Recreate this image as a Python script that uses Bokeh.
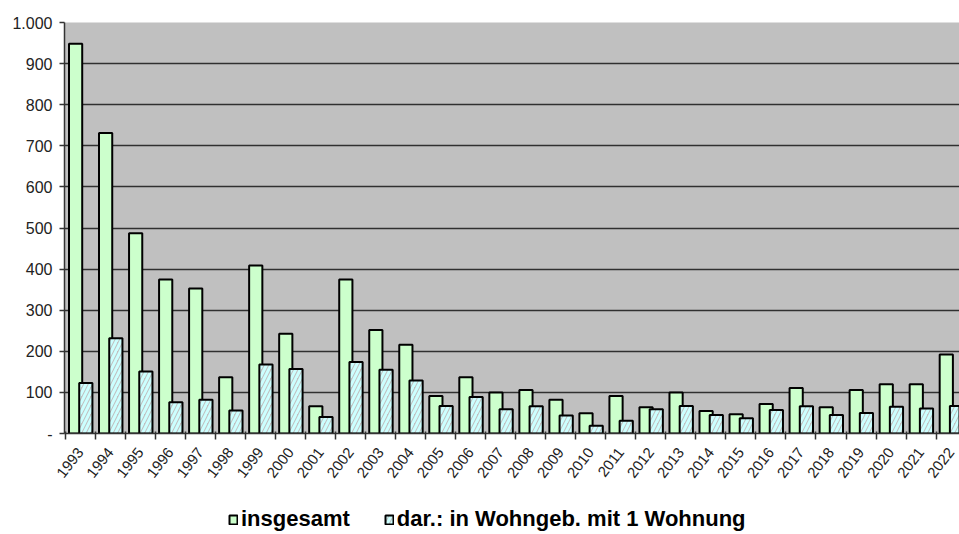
import math
from bokeh.plotting import figure
from bokeh.layouts import column
from bokeh.models import (ColumnDataSource, Range1d, FixedTicker, Legend, LegendItem,
                          LinearAxis)
from bokeh.transform import dodge
from bokeh.embed import file_html
from bokeh.resources import INLINE

# ---- data ----
years = ["1993", "1994", "1995", "1996", "1997", "1998", "1999", "2000", "2001", "2002",
         "2003", "2004", "2005", "2006", "2007", "2008", "2009", "2010", "2011", "2012",
         "2013", "2014", "2015", "2016", "2017", "2018", "2019", "2020", "2021", "2022"]
insgesamt = [948, 731, 487, 375, 353, 137, 409, 243, 66, 375,
             252, 216, 91, 137, 100, 106, 82, 49, 91, 64,
             100, 55, 47, 72, 111, 64, 106, 120, 120, 192]
einfam = [123, 232, 151, 76, 82, 56, 168, 157, 40, 174,
          155, 129, 67, 89, 59, 66, 44, 19, 31, 59,
          67, 45, 37, 57, 66, 45, 50, 65, 61, 67]
y_ticks = [0, 100, 200, 300, 400, 500, 600, 700, 800, 900, 1000]
y_labels = ["-", "100", "200", "300", "400", "500", "600", "700", "800", "900", "1.000"]
series_names = ["insgesamt", "dar.: in Wohngeb. mit 1 Wohnung"]

FONT = "Liberation Sans"
W = 959

idx = list(range(len(years)))
source = ColumnDataSource(dict(idx=idx, years=years, total=insgesamt, one=einfam))

p = figure(width=W, height=495, output_backend="svg", toolbar_location=None,
           x_range=Range1d(-0.03, 29.78), y_range=Range1d(0, 1000),
           min_border_top=22, min_border_left=64, min_border_right=0,
           min_border_bottom=62,
           background_fill_color="#c0c0c0", border_fill_color="white",
           outline_line_color=None, x_axis_location=None, y_axis_location=None)

# y axis
yax = LinearAxis(ticker=FixedTicker(ticks=y_ticks),
                 major_label_overrides={t: l for t, l in zip(y_ticks, y_labels)},
                 major_label_text_font=FONT, major_label_text_font_size="16px",
                 major_label_text_color="#222222", major_label_standoff=7,
                 major_tick_out=5, major_tick_in=0, minor_tick_out=0, minor_tick_in=0,
                 axis_line_color="#333333", axis_line_width=1.5,
                 major_tick_line_color="#333333", major_tick_line_width=1.5)
p.add_layout(yax, "left")

# x axis: labels at category centres, ticks at boundaries (minor)
centres = [i + 0.5 for i in idx]
bounds = list(range(len(years) + 1))
xax = LinearAxis(ticker=FixedTicker(ticks=centres, minor_ticks=bounds),
                 major_label_overrides={c: y for c, y in zip(centres, years)},
                 major_label_orientation=math.radians(52),
                 major_label_text_font=FONT, major_label_text_font_size="15px",
                 major_label_text_color="#222222", major_label_standoff=10,
                 major_tick_out=0, major_tick_in=0,
                 minor_tick_out=6, minor_tick_in=2,
                 minor_tick_line_color="#333333", minor_tick_line_width=1.5,
                 axis_line_color="#333333", axis_line_width=1.5)
p.add_layout(xax, "below")

p.xgrid.visible = False
p.ygrid.ticker = FixedTicker(ticks=y_ticks)
p.ygrid.grid_line_color = "#303030"
p.ygrid.grid_line_width = 1.6

bar1 = dict(fill_color="#ccffcc", line_color="black", line_width=2)
bar2 = dict(fill_color="#c0c0c0", line_color="black", line_width=2,
            hatch_pattern="/", hatch_color="#ccffff", hatch_weight=3, hatch_scale=9)

p.vbar(x=dodge("idx", 0.34, range=p.x_range), top="total", width=0.44, source=source, **bar1)
p.vbar(x=dodge("idx", 0.68, range=p.x_range), top="one", width=0.44, source=source, **bar2)

# legend strip below the chart (proxy glyphs lie outside its visible range)
lf = figure(width=W, height=39, output_backend="svg", toolbar_location=None,
            x_range=Range1d(0, 1), y_range=Range1d(0, 1),
            min_border_top=0, min_border_left=0, min_border_right=0, min_border_bottom=0,
            outline_line_color=None, x_axis_location=None, y_axis_location=None,
            background_fill_color="white", border_fill_color="white")
lf.grid.visible = False
proxy = ColumnDataSource(dict(x=[5], top=[0]))
l1 = lf.vbar(x="x", top="top", width=0.1, source=proxy, **bar1)
l2 = lf.vbar(x="x", top="top", width=0.1, source=proxy, **bar2)

legend = Legend(items=[LegendItem(label=series_names[0], renderers=[l1]),
                       LegendItem(label=series_names[1], renderers=[l2])],
                orientation="horizontal", location=(162, 0),
                label_text_font=FONT, label_text_font_style="bold",
                label_text_font_size="22px", label_text_color="black",
                glyph_width=10, glyph_height=11, label_standoff=3, spacing=34,
                border_line_alpha=0, background_fill_alpha=0, padding=2, margin=0)
lf.add_layout(legend, "center")

layout = column(p, lf, spacing=0)
open("out.html", "w").write(file_html(layout, INLINE))
